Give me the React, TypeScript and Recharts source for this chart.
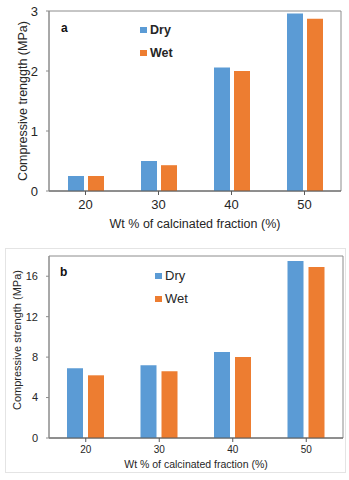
import React from 'react';
import { BarChart, Bar, XAxis, YAxis, ReferenceArea, Legend, Label } from 'recharts';

const categories = ['20', '30', '40', '50'];
const dryA = [0.25, 0.5, 2.06, 2.96];
const wetA = [0.25, 0.43, 2.0, 2.87];
const dryB = [6.9, 7.2, 8.5, 17.5];
const wetB = [6.2, 6.6, 8.0, 16.9];
const ticksA = [0, 1, 2, 3];
const ticksB = [0, 4, 8, 12, 16];
const seriesNames = ['Dry', 'Wet'];
const colors = ['#5B9BD5', '#ED7D31'];

const dataA = categories.map((c, i) => ({ cat: c, Dry: dryA[i], Wet: wetA[i] }));
const dataB = categories.map((c, i) => ({ cat: c, Dry: dryB[i], Wet: wetB[i] }));

const FONT = '"Liberation Sans", Arial, sans-serif';
const FRAME = '#8c8c8c';
const TEXT = '#262626';

const makeLegend = (bold: boolean, fontSize: number, sq: number, rowH: number) => (props: any) => (
  <div style={{ fontFamily: FONT }}>
    {(props.payload || []).map((p: any) => (
      <div
        key={p.value}
        style={{
          display: 'flex',
          alignItems: 'center',
          height: rowH,
          fontWeight: bold ? 'bold' : 'normal',
          fontSize,
          color: TEXT,
        }}
      >
        <span style={{ display: 'inline-block', width: sq, height: sq - 1, background: p.color, marginRight: 3 }} />
        {p.value}
      </div>
    ))}
  </div>
);

export default function App() {
  return (
    <div style={{ position: 'absolute', left: 0, top: 0, width: 349, height: 480, background: '#fff' }}>
      <div style={{ position: 'absolute', left: 0, top: 0 }}>
        <BarChart width={349} height={240} data={dataA} margin={{ top: 11, right: 8, left: 0, bottom: 9 }} barSize={16} barGap={4}>
          <ReferenceArea y1={0} y2={3} fill="none" stroke={FRAME} strokeWidth={1}>
            <Label value="a" position="insideTopLeft" offset={12} fontWeight="bold" fontSize={12} fill="#111" fontFamily={FONT} />
          </ReferenceArea>
          <XAxis
            dataKey="cat"
            height={40}
            tickSize={4}
            tickMargin={5}
            axisLine={{ stroke: '#595959' }}
            tickLine={{ stroke: '#595959' }}
            tick={{ fontSize: 13, fill: TEXT, fontFamily: FONT }}
          >
            <Label value="Wt % of calcinated fraction (%)" position="insideBottom" offset={3} fontSize={12.5} fill={TEXT} fontFamily={FONT} />
          </XAxis>
          <YAxis
            width={49}
            domain={[0, 3]}
            ticks={ticksA}
            tickSize={3}
            tickMargin={8}
            axisLine={{ stroke: FRAME }}
            tickLine={{ stroke: FRAME }}
            tick={{ fontSize: 13, fill: TEXT, fontFamily: FONT }}
          >
            <Label value="Compressive trenggth (MPa)" angle={-90} position="insideLeft" offset={23} fontSize={12.5} fill={TEXT} fontFamily={FONT} style={{ textAnchor: 'middle' }} />
          </YAxis>
          <Legend
            layout="vertical"
            align="center"
            verticalAlign="middle"
            content={makeLegend(true, 12.5, 7, 23)}
            wrapperStyle={{ left: 140, top: 18, width: 60 }}
          />
          <Bar dataKey={seriesNames[0]} fill={colors[0]} isAnimationActive={false} />
          <Bar dataKey={seriesNames[1]} fill={colors[1]} isAnimationActive={false} />
        </BarChart>
      </div>
      <div style={{ position: 'absolute', left: 5, top: 248, width: 341, height: 225, border: '1px solid #e4e4e4', boxSizing: 'border-box' }} />
      <div style={{ position: 'absolute', left: 0, top: 240 }}>
        <BarChart width={349} height={240} data={dataB} margin={{ top: 16, right: 6, left: 0, bottom: 2 }} barSize={16} barGap={5}>
          <ReferenceArea y1={0} y2={18} fill="none" stroke={FRAME} strokeWidth={1}>
            <Label value="b" position="insideTopLeft" offset={11} fontWeight="bold" fontSize={12} fill="#111" fontFamily={FONT} />
          </ReferenceArea>
          <XAxis
            dataKey="cat"
            height={40}
            tickSize={4}
            tickMargin={4}
            axisLine={{ stroke: '#595959' }}
            tickLine={{ stroke: '#595959' }}
            tick={{ fontSize: 10, fill: TEXT, fontFamily: FONT }}
          >
            <Label value="Wt % of calcinated fraction (%)" position="insideBottom" offset={10} fontSize={10.5} fill={TEXT} fontFamily={FONT} />
          </XAxis>
          <YAxis
            width={49}
            domain={[0, 18]}
            ticks={ticksB}
            tickSize={3}
            tickMargin={8}
            axisLine={{ stroke: FRAME }}
            tickLine={{ stroke: FRAME }}
            tick={{ fontSize: 11, fill: TEXT, fontFamily: FONT }}
          >
            <Label value="Compressive strength (MPa)" angle={-90} position="insideLeft" offset={17} fontSize={11} fill={TEXT} fontFamily={FONT} style={{ textAnchor: 'middle' }} dy={-7} />
          </YAxis>
          <Legend
            layout="vertical"
            align="center"
            verticalAlign="middle"
            content={makeLegend(false, 13, 7, 23)}
            wrapperStyle={{ left: 155, top: 24, width: 60 }}
          />
          <Bar dataKey={seriesNames[0]} fill={colors[0]} isAnimationActive={false} />
          <Bar dataKey={seriesNames[1]} fill={colors[1]} isAnimationActive={false} />
        </BarChart>
      </div>
    </div>
  );
}
